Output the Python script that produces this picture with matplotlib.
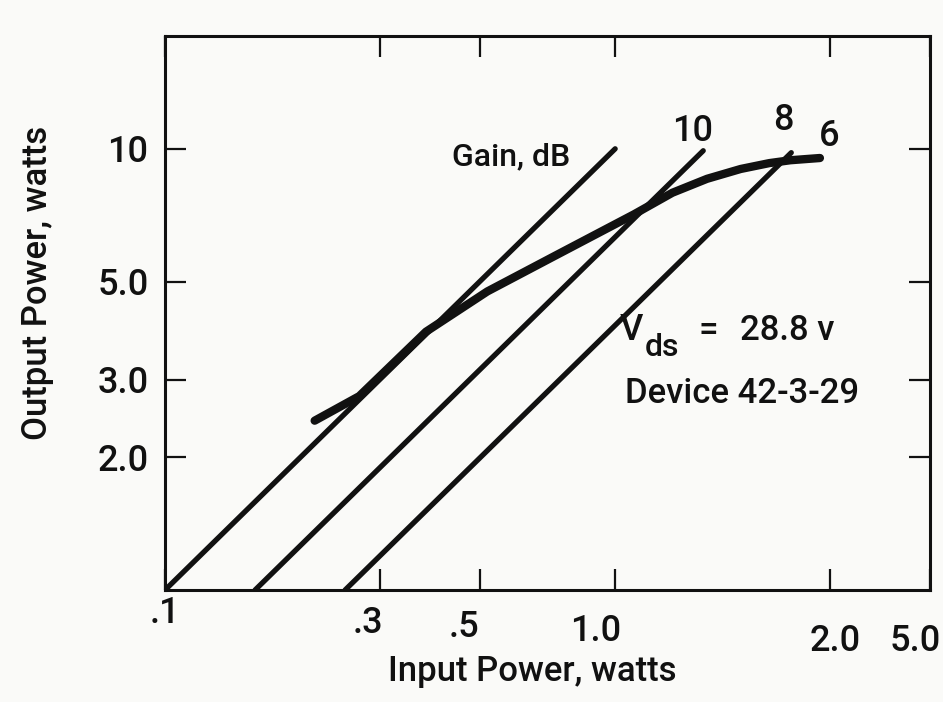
import matplotlib
matplotlib.use("Agg")
import matplotlib.pyplot as plt
from matplotlib.ticker import FixedLocator, NullLocator
from matplotlib.transforms import ScaledTranslation

plt.rcParams['font.family'] = ['Roboto', 'DejaVu Sans']
plt.rcParams['font.weight'] = 'medium'

# constant gain lines (dB) and the output power where each one stops
gains_db = [10, 8, 6]
gain_top_pout = [10.0, 9.9, 9.8]
gain_labels = ["10", "8", "6"]

# measured output power vs input power, watts
pin_meas = [0.215, 0.27, 0.38, 0.52, 0.73, 0.893, 1.1, 1.34, 1.6, 1.9, 2.2, 2.45, 2.85]
pout_meas = [2.42, 2.75, 3.85, 4.75, 5.7, 6.35, 7.1, 7.95, 8.55, 9.0, 9.28, 9.42, 9.53]

x_ticks = [0.1, 0.3, 0.5, 1.0, 3.0, 5.0]
x_ticklabels = [".1", ".3", ".5", "1.0", "2.0", "5.0"]
y_ticks = [2.0, 3.0, 5.0, 10.0]
y_ticklabels = ["2.0", "3.0", "5.0", "10"]

bg = '#fafaf8'
ink = '#111111'

fig = plt.figure(figsize=(9.43, 7.02), dpi=100, facecolor=bg)
ax = fig.add_axes([0.175, 0.1595, 0.811, 0.789])
ax.set_facecolor(bg)
ax.set_xscale('log')
ax.set_yscale('log')
ax.set_xlim(0.1, 5.0)
ax.set_ylim(1, 18)

for g, ptop in zip(gains_db, gain_top_pout):
    ratio = 10 ** (g / 10)
    ax.plot([1 / ratio, ptop / ratio], [1, ptop], color=ink, lw=3.8,
            solid_capstyle='round')

ax.plot(pin_meas, pout_meas, color=ink, lw=6,
        solid_capstyle='round', solid_joinstyle='round')

for s in ax.spines.values():
    s.set_linewidth(2.2)
    s.set_color(ink)

ax.xaxis.set_major_locator(FixedLocator(x_ticks))
ax.xaxis.set_minor_locator(NullLocator())
ax.yaxis.set_major_locator(FixedLocator(y_ticks))
ax.yaxis.set_minor_locator(NullLocator())
ax.set_xticklabels(x_ticklabels)
ax.set_yticklabels(y_ticklabels)
ax.tick_params(which='major', direction='in', length=15, width=1.6,
               top=True, right=True, labelsize=26, colors=ink)
ax.tick_params(axis='x', pad=9)
ax.tick_params(axis='y', pad=12)

# hand-lettered tick labels sit a bit off their ticks
nudges = [(0, 7), (-12, -3), (-16, -7), (-20, -11), (5, -21), (-15, -21)]
for lab, (dx, dy) in zip(ax.get_xticklabels(), nudges):
    lab.set_transform(lab.get_transform()
                      + ScaledTranslation(dx / 100, dy / 100, fig.dpi_scale_trans))

# annotations
ax.text(0.452, 0.782, "Gain, dB", transform=ax.transAxes, fontsize=23,
        ha='center', va='center', color=ink)
label_pos = [(0.690, 0.827), (0.809, 0.848), (0.868, 0.818)]
for lab, (fx, fy) in zip(gain_labels, label_pos):
    ax.text(fx, fy, lab, transform=ax.transAxes, fontsize=26,
            ha='center', va='center', color=ink)

ax.text(0.595, 0.469, "V", transform=ax.transAxes, fontsize=26,
        ha='left', va='center', color=ink)
ax.text(0.627, 0.437, "ds", transform=ax.transAxes, fontsize=23,
        ha='left', va='center', color=ink)
ax.text(0.710, 0.469, "=", transform=ax.transAxes, fontsize=25,
        ha='center', va='center', color=ink)
ax.text(0.752, 0.469, "28.8 v", transform=ax.transAxes, fontsize=25,
        ha='left', va='center', color=ink)
ax.text(0.601, 0.354, "Device 42-3-29", transform=ax.transAxes, fontsize=25,
        ha='left', va='center', color=ink)

fig.text(532 / 943, 1 - 672 / 702, "Input Power, watts", fontsize=25,
         ha='center', va='center', color=ink)
fig.text(38 / 943, 1 - 283 / 702, "Output Power, watts", fontsize=25,
         rotation=90, ha='center', va='center', color=ink)

fig.savefig("out.png", dpi=100, facecolor=bg)
